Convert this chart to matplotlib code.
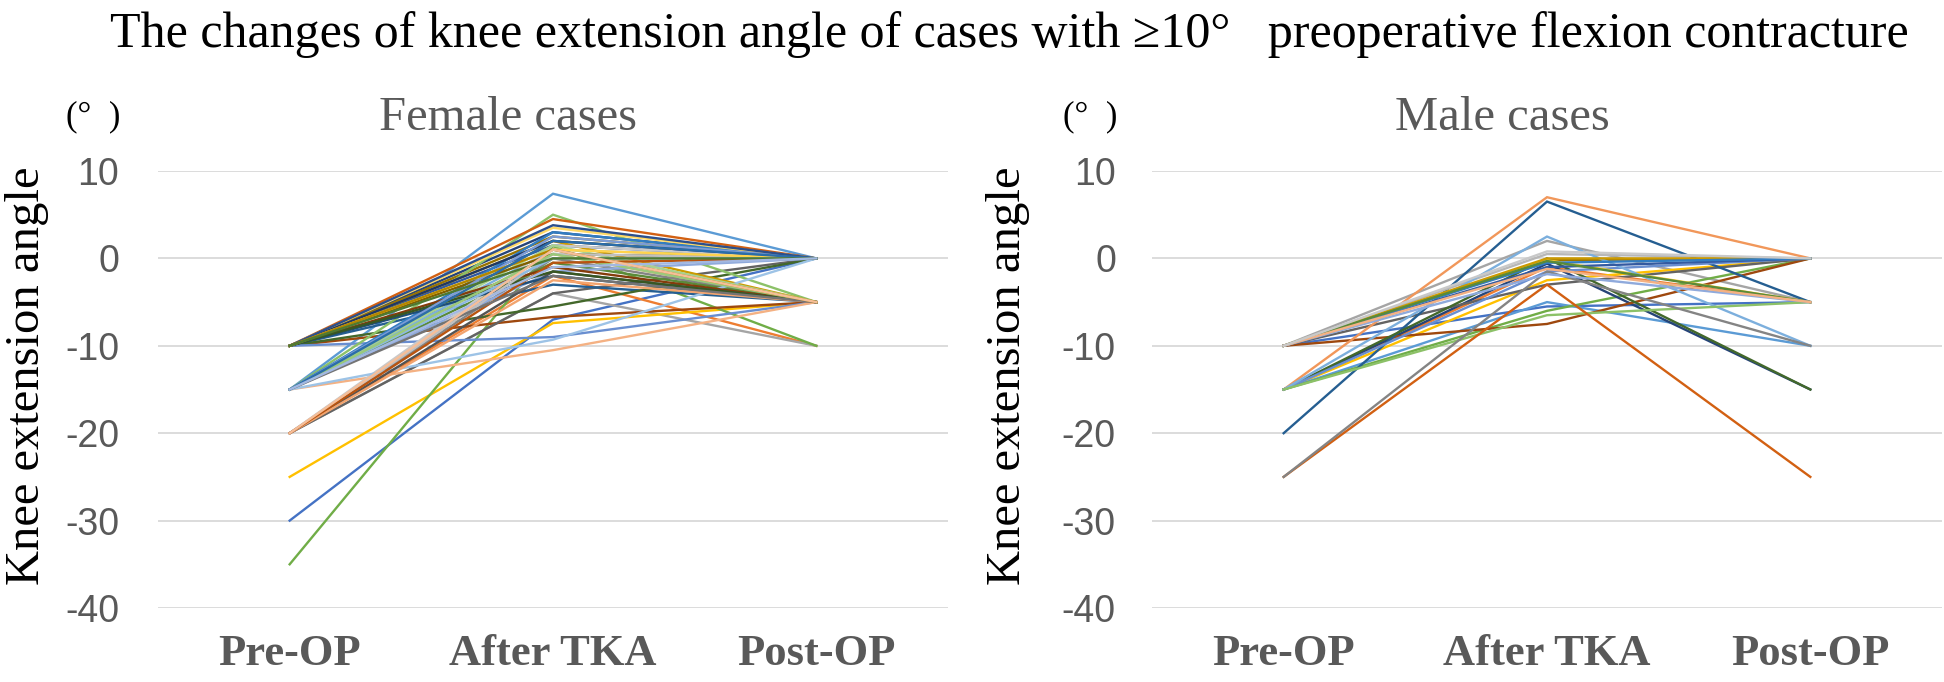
import colorsys
import matplotlib
matplotlib.use('Agg')
import matplotlib.pyplot as plt
from matplotlib.colors import to_rgb

plt.rcParams['axes.unicode_minus'] = False

STAGES = ['Pre-OP', 'After TKA', 'Post-OP']

# one case per index: angle at Pre-OP, after TKA (intra-op), Post-OP
FEMALE_PRE = [-30, -20, -20, -25, -15, -35, -10, -10, -20, -10,
              -10, -10, -10, -15, -20, -15, -15, -15, -10, -10,
              -20, -10, -15, -15, -15, -15, -20, -10, -15, -15,
              -10, -10, -20, -10, -10, -10, -15, -20, -20, -10,
              -15, -15, -10, -20, -15, -10, -15, -10, -15, -20]
FEMALE_AFTER = [-7.0, -2.0, -4.0, -7.4, 7.4, 1.4, 3.0, -6.7, -4.0, 2.5,
                -3.0, -5.5, -9.0, 0.5, 1.0, 2.0, 1.0, 5.0, 1.5, 4.5,
                0.0, 2.0, 3.0, -0.5, -1.5, -10.5, 1.5, 3.5, -9.3, 1.5,
                2.0, -1.0, -1.5, 0.5, -2.0, -1.5, 2.5, -2.5, 0.5, 1.0,
                0.0, 0.5, 3.8, -0.5, -2.0, 1.0, 2.0, 0.0, -1.0, 1.0]
FEMALE_POST = [0, -10, -10, -5, 0, -10, 0, -5, 0, 0,
               -5, 0, -5, -5, 0, 0, -5, -5, 0, 0,
               -5, -5, 0, -5, 0, -5, 0, 0, 0, -5,
               0, -5, -5, 0, -5, -5, 0, -5, 0, 0,
               0, -5, 0, 0, -5, -5, 0, 0, 0, -5]

MALE_PRE = [-10, -15, -10, -15, -15, -15, -15, -10, -10, -10,
            -20, -15, -15, -15, -10, -10, -15, -15, -10, -25,
            -25, -10, -10, -10, -10, -10, -10]
MALE_AFTER = [-5.5, -1.0, 2.0, -2.5, -5.0, -6.0, -0.6, -7.5, -3.0, -0.2,
              6.5, 0.0, -1.5, 7.0, 0.5, -0.2, 2.5, -6.5, -1.0, -3.0,
              -1.5, 0.0, -0.5, -0.3, -1.8, -1.2, 0.8]
MALE_POST = [-5, -5, -5, 0, -10, 0, -15, 0, 0, 0,
             -5, -15, 0, 0, 0, -5, -10, -5, 0, -25,
             -10, 0, 0, -5, -5, -5, 0]

ACCENTS = ['#4472C4', '#ED7D31', '#A5A5A5', '#FFC000', '#5B9BD5', '#70AD47']
TIERS = [(1.0, 0.0), (0.6, 0.0), (0.8, 0.2), (0.8, 0.0), (0.6, 0.4),
         (0.5, 0.0), (0.7, 0.3), (0.7, 0.0), (0.5, 0.5)]


def series_color(i):
    """Office-style series colour: accent shade by series index."""
    mod, off = TIERS[(i // 6) % len(TIERS)]
    h, l, s = colorsys.rgb_to_hls(*to_rgb(ACCENTS[i % 6]))
    return colorsys.hls_to_rgb(h, min(1.0, l * mod + off), s)


SERIF = ['Liberation Serif', 'DejaVu Serif']
SANS = 'Liberation Sans'
GREY = '#595959'
W, H = 1944, 682

fig = plt.figure(figsize=(W / 100, H / 100), dpi=100)


def px_axes(x0, x1, y0, y1):
    return fig.add_axes([x0 / W, 1 - y1 / H, (x1 - x0) / W, (y1 - y0) / H])


panels = [
    (px_axes(158, 948, 171, 608), FEMALE_PRE, FEMALE_AFTER, FEMALE_POST,
     'Female cases', 508, 93, 27, 28),
    (px_axes(1152, 1942, 171, 608), MALE_PRE, MALE_AFTER, MALE_POST,
     'Male cases', 1502, 1090, 1008, 26),
]

for ax, pre, after, post, name, name_x, unit_x, ylab_x, ypad in panels:
    x = range(len(STAGES))
    for i, vals in enumerate(zip(pre, after, post)):
        ax.plot(x, vals, color=series_color(i), lw=1.7, solid_joinstyle='miter')

    ax.set_xlim(-0.5, 2.5)
    ax.set_ylim(-40, 10)
    ax.set_yticks(range(-40, 11, 10))
    ax.set_xticks(list(x))
    ax.set_xticklabels(STAGES, fontfamily=SERIF, fontweight='bold',
                       fontsize=32, color=GREY)
    for lab in ax.get_yticklabels():
        lab.set_fontfamily(SANS)
        lab.set_fontsize(27)
        lab.set_color(GREY)
    ax.tick_params(axis='x', length=0, pad=19)
    ax.tick_params(axis='y', length=0, pad=ypad)
    ax.grid(axis='y', color='#D9D9D9', lw=1.3)
    ax.set_axisbelow(True)
    for sp in ax.spines.values():
        sp.set_visible(False)

    fig.text(name_x / W, 1 - 130 / H, name, fontfamily=SERIF, fontsize=35,
             color=GREY, ha='center', va='baseline')
    fig.text(unit_x / W, 1 - 117 / H, '(°  )', fontfamily=SERIF, fontsize=25,
             color='black', ha='center', va='center')
    fig.text(ylab_x / W, 1 - 376 / H, 'Knee extension angle', fontfamily=SERIF,
             fontsize=35, color='black', rotation=90, ha='center', va='center')

fig.text(1009 / W, 1 - 47 / H,
         'The changes of knee extension angle of cases with \u226510°   '
         'preoperative flexion contracture',
         fontfamily=SERIF, fontsize=36, color='black', ha='center', va='baseline')

fig.savefig('out.png', dpi=100)
